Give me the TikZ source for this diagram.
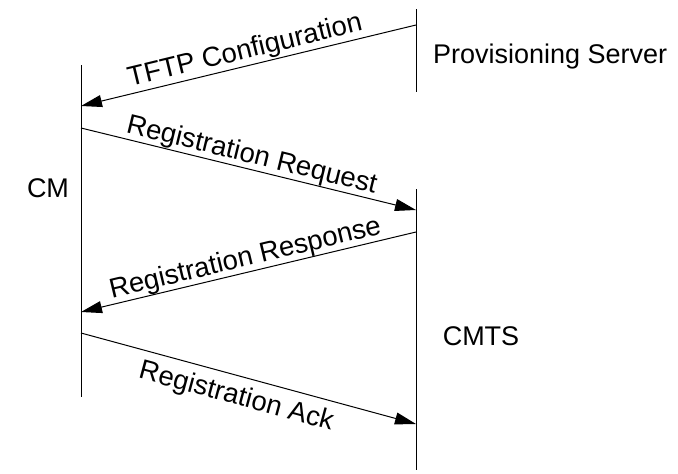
\documentclass[tikz,border=0pt]{standalone}
\usepackage{fontspec}
\setmainfont{Liberation Sans}
\usetikzlibrary{arrows.meta}
\begin{document}
\begin{tikzpicture}[x=1pt,y=-1pt,
  lifeline/.style={line width=1pt},
  msg/.style={line width=1pt,-{Triangle[length=21pt,width=12pt]}},
  lbl/.style={font=\fontsize{27.5}{29}\selectfont,sloped,inner sep=0pt},
  actor/.style={font=\fontsize{27}{29}\selectfont,inner sep=0pt}]
\useasboundingbox (0,0) rectangle (678,474);
% lifelines
\coordinate (cmT) at (81,65);
\coordinate (cmB) at (81,397);
\coordinate (psT) at (416,9);
\coordinate (psB) at (416,92);
\coordinate (ctT) at (416,189);
\coordinate (ctB) at (416,470);
\draw[lifeline] (cmT) -- (cmB);
\draw[lifeline] (psT) -- (psB);
\draw[lifeline] (ctT) -- (ctB);
% actors
\node[actor] (cm) at (48,188) {CM};
\node[actor,anchor=west] (ps) at (433,57) {Provisioning Server};
\node[actor] (cmts) at (481,336) {CMTS};
% message endpoints
\coordinate (m1s) at (416,25);
\coordinate (m1e) at (81,106);
\coordinate (m2s) at (81,128);
\coordinate (m2e) at (416,210);
\coordinate (m3s) at (416,232);
\coordinate (m3e) at (81,312);
\coordinate (m4s) at (81,333);
\coordinate (m4e) at (416,424);
\draw[msg] (m1s) -- node[lbl,above=1pt] (l1) {TFTP Configuration} (m1e);
\draw[msg] (m2s) -- node[lbl,above=0pt] (l2) {Registration Request} (m2e);
\draw[msg] (m3s) -- node[lbl,above=0pt] (l3) {Registration Response} (m3e);
\draw[msg] (m4s) -- node[lbl,below=8pt,pos=0.48] (l4) {Registration Ack} (m4e);
\end{tikzpicture}
\end{document}
